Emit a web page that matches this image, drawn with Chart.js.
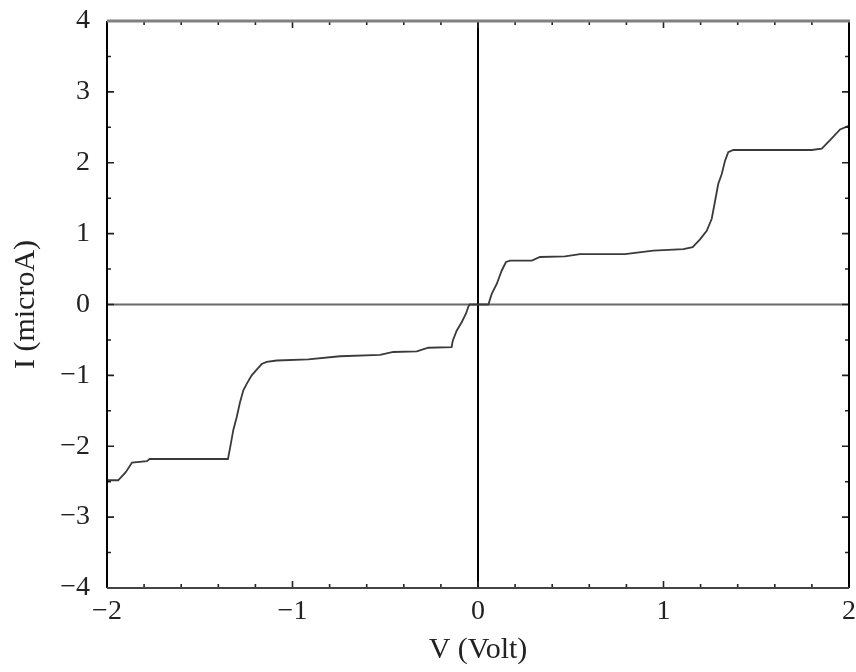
<!DOCTYPE html>
<html>
<head>
<meta charset="utf-8">
<script src="https://cdn.jsdelivr.net/npm/chart.js@4/dist/chart.umd.min.js"></script>
<style>
  html, body { margin: 0; padding: 0; background: #fff; }
  #wrap { width: 856px; height: 672px; }
</style>
</head>
<body>
<div id="wrap"><canvas id="iv" width="856" height="672"></canvas></div>
<script>
// Current-voltage staircase (Coulomb blockade style I-V curve)
const voltage = [
  -2.000, -1.940, -1.900, -1.865, -1.785, -1.770, -1.348, -1.337, -1.319, -1.301,
  -1.283, -1.265, -1.247, -1.220, -1.193, -1.166, -1.139, -1.085, -0.915, -0.744,
  -0.528, -0.457, -0.330, -0.268, -0.142, -0.136, -0.115, -0.088, -0.065, -0.052,
  -0.045, 0.050, 0.056, 0.074, 0.101, 0.128, 0.151, 0.173, 0.290, 0.334,
  0.469, 0.550, 0.658, 0.792, 0.945, 1.107, 1.157, 1.197, 1.233, 1.260,
  1.278, 1.295, 1.314, 1.332, 1.349, 1.376, 1.799, 1.853, 1.898, 1.952,
  1.988, 2.000
];
const current = [
  -2.48, -2.48, -2.37, -2.23, -2.21, -2.18, -2.18, -2.03, -1.77, -1.59,
  -1.38, -1.21, -1.12, -1.00, -0.92, -0.84, -0.81, -0.79, -0.775, -0.73,
  -0.71, -0.67, -0.66, -0.61, -0.60, -0.51, -0.37, -0.25, -0.13, -0.03,
  0.00, 0.00, 0.00, 0.15, 0.29, 0.48, 0.60, 0.62, 0.62, 0.67,
  0.68, 0.71, 0.71, 0.71, 0.76, 0.78, 0.81, 0.92, 1.04, 1.21,
  1.46, 1.70, 1.84, 2.03, 2.15, 2.18, 2.18, 2.20, 2.32, 2.47,
  2.51, 2.52
];
const xTicks = [-2, -1, 0, 1, 2];
const yTicks = [-4, -3, -2, -1, 0, 1, 2, 3, 4];
const xMinorStep = 0.2;
const yMinorStep = 0.5;
const xTitle = 'V (Volt)';
const yTitle = 'I (microA)';

const points = voltage.map((v, i) => ({ x: v, y: current[i] }));
const fmt = v => String(v).replace('-', '\u2212');

// Frame, zero axes and inward tick marks on all four sides
const framePlugin = {
  id: 'frame',
  beforeDatasetsDraw(chart) {
    const { ctx, chartArea: a, scales: { x, y } } = chart;
    ctx.save();
    const y0 = y.getPixelForValue(0);
    ctx.strokeStyle = '#6a6a6a';
    ctx.lineWidth = 2;
    ctx.beginPath(); ctx.moveTo(a.left, y0); ctx.lineTo(a.right, y0); ctx.stroke();
    const x0 = x.getPixelForValue(0);
    ctx.strokeStyle = '#000';
    ctx.lineWidth = 2;
    ctx.beginPath(); ctx.moveTo(x0, a.top); ctx.lineTo(x0, a.bottom); ctx.stroke();
    ctx.restore();
  },
  afterDatasetsDraw(chart) {
    const { ctx, chartArea: a, scales: { x, y } } = chart;
    ctx.save();
    ctx.strokeStyle = '#222';
    ctx.lineWidth = 1.6;
    const eps = 1e-6;
    for (let v = x.min; v <= x.max + eps; v += xMinorStep) {
      const major = Math.abs(v - Math.round(v)) < eps;
      const len = major ? 7 : 4;
      const px = x.getPixelForValue(v);
      ctx.beginPath();
      ctx.moveTo(px, a.bottom); ctx.lineTo(px, a.bottom - len);
      ctx.moveTo(px, a.top); ctx.lineTo(px, a.top + len);
      ctx.stroke();
    }
    for (let v = y.min; v <= y.max + eps; v += yMinorStep) {
      const major = Math.abs(v - Math.round(v)) < eps;
      const len = major ? 7 : 4;
      const py = y.getPixelForValue(v);
      ctx.beginPath();
      ctx.moveTo(a.left, py); ctx.lineTo(a.left + len, py);
      ctx.moveTo(a.right, py); ctx.lineTo(a.right - len, py);
      ctx.stroke();
    }
    ctx.lineWidth = 2;
    ctx.strokeStyle = '#000';
    ctx.beginPath(); ctx.moveTo(a.left, a.top); ctx.lineTo(a.left, a.bottom); ctx.stroke();
    ctx.beginPath(); ctx.moveTo(a.right, a.top); ctx.lineTo(a.right, a.bottom); ctx.stroke();
    ctx.strokeStyle = '#444';
    ctx.beginPath(); ctx.moveTo(a.left, a.bottom); ctx.lineTo(a.right, a.bottom); ctx.stroke();
    ctx.strokeStyle = '#808080';
    ctx.lineWidth = 3;
    ctx.beginPath(); ctx.moveTo(a.left, a.top); ctx.lineTo(a.right + 1, a.top); ctx.stroke();
    ctx.restore();
  }
};

const serif = "'Liberation Serif', 'DejaVu Serif', serif";

new Chart(document.getElementById('iv'), {
  type: 'scatter',
  data: {
    datasets: [{
      data: points,
      showLine: true,
      borderColor: '#3a3a3a',
      borderWidth: 1.8,
      pointRadius: 0,
      tension: 0,
      fill: false
    }]
  },
  options: {
    responsive: false,
    animation: false,
    devicePixelRatio: 1,
    layout: { padding: { left: 8, right: 7, top: 21, bottom: 4 } },
    plugins: { legend: { display: false }, tooltip: { enabled: false } },
    scales: {
      x: {
        type: 'linear',
        min: -2, max: 2,
        afterBuildTicks: s => { s.ticks = xTicks.map(v => ({ value: v })); },
        afterFit: s => { s.height = 80; s.paddingLeft = 0; s.paddingRight = 0; },
        grid: { display: false, drawTicks: false },
        border: { display: false },
        ticks: {
          color: '#222',
          padding: 7,
          font: { family: serif, size: 28 },
          callback: v => fmt(v)
        },
        title: {
          display: true, text: xTitle, color: '#222',
          font: { family: serif, size: 30 },
          padding: { top: 0, bottom: 0 }
        }
      },
      y: {
        type: 'linear',
        min: -4, max: 4,
        afterBuildTicks: s => { s.ticks = yTicks.map(v => ({ value: v })); },
        afterFit: s => { s.width = 99; s.paddingTop = 0; s.paddingBottom = 0; },
        grid: { display: false, drawTicks: false },
        border: { display: false },
        ticks: {
          color: '#222',
          padding: 17,
          font: { family: serif, size: 28 },
          callback: v => fmt(v)
        },
        title: {
          display: true, text: yTitle, color: '#222',
          font: { family: serif, size: 30 },
          padding: { top: 0, bottom: 0 }
        }
      }
    }
  },
  plugins: [framePlugin]
});
</script>
</body>
</html>
